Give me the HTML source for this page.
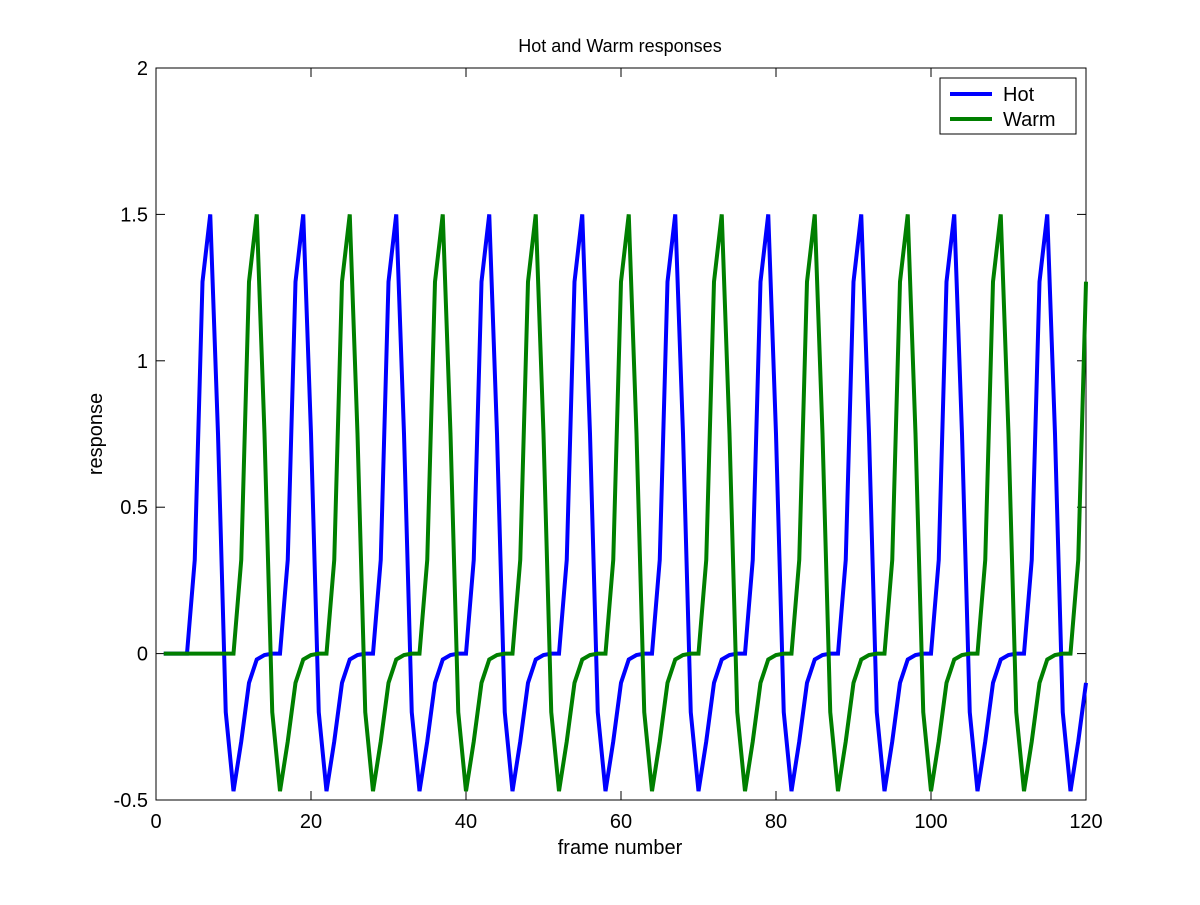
<!DOCTYPE html>
<html><head><meta charset="utf-8"><style>
body{margin:0;background:#fff;}
svg text{font-family:"Liberation Sans",Arial,sans-serif;fill:#000;}
</style></head><body>
<svg id="chart" width="1200" height="900" viewBox="0 0 1200 900" xmlns="http://www.w3.org/2000/svg">
<rect x="0" y="0" width="1200" height="900" fill="#fff"/>
<rect x="156" y="68" width="930" height="732" fill="#fff" stroke="#000" stroke-width="1"/>
<g id="ticks"></g>
<g id="series"></g>
<text x="620" y="52" font-size="18" text-anchor="middle">Hot and Warm responses</text>
<text x="620" y="854" font-size="20" text-anchor="middle">frame number</text>
<text transform="translate(102,434) rotate(-90)" font-size="20" text-anchor="middle">response</text>
<g>
<rect x="940" y="78" width="136" height="56" fill="#fff" stroke="#000" stroke-width="1"/>
<line x1="950" y1="94" x2="992" y2="94" stroke="#0000ff" stroke-width="4"/>
<text x="1003" y="101" font-size="20">Hot</text>
<line x1="950" y1="119" x2="992" y2="119" stroke="#007f00" stroke-width="4"/>
<text x="1003" y="126" font-size="20">Warm</text>
</g>
</svg>
<script>
const xTicks=[0,20,40,60,80,100,120];
const yTicks=[-0.5,0,0.5,1,1.5,2];
const yTickLabels=["-0.5","0","0.5","1","1.5","2"];
const hot=[0,0,0,
0,0.32,1.27,1.5,0.75,-0.2,-0.47,-0.3,-0.1,-0.02,-0.005,0,
0,0.32,1.27,1.5,0.75,-0.2,-0.47,-0.3,-0.1,-0.02,-0.005,0,
0,0.32,1.27,1.5,0.75,-0.2,-0.47,-0.3,-0.1,-0.02,-0.005,0,
0,0.32,1.27,1.5,0.75,-0.2,-0.47,-0.3,-0.1,-0.02,-0.005,0,
0,0.32,1.27,1.5,0.75,-0.2,-0.47,-0.3,-0.1,-0.02,-0.005,0,
0,0.32,1.27,1.5,0.75,-0.2,-0.47,-0.3,-0.1,-0.02,-0.005,0,
0,0.32,1.27,1.5,0.75,-0.2,-0.47,-0.3,-0.1,-0.02,-0.005,0,
0,0.32,1.27,1.5,0.75,-0.2,-0.47,-0.3,-0.1,-0.02,-0.005,0,
0,0.32,1.27,1.5,0.75,-0.2,-0.47,-0.3,-0.1,-0.02,-0.005,0,
0,0.32,1.27,1.5,0.75,-0.2,-0.47,-0.3,-0.1];
const warm=[0,0,0,0,0,0,0,0,0,
0,0.32,1.27,1.5,0.75,-0.2,-0.47,-0.3,-0.1,-0.02,-0.005,0,
0,0.32,1.27,1.5,0.75,-0.2,-0.47,-0.3,-0.1,-0.02,-0.005,0,
0,0.32,1.27,1.5,0.75,-0.2,-0.47,-0.3,-0.1,-0.02,-0.005,0,
0,0.32,1.27,1.5,0.75,-0.2,-0.47,-0.3,-0.1,-0.02,-0.005,0,
0,0.32,1.27,1.5,0.75,-0.2,-0.47,-0.3,-0.1,-0.02,-0.005,0,
0,0.32,1.27,1.5,0.75,-0.2,-0.47,-0.3,-0.1,-0.02,-0.005,0,
0,0.32,1.27,1.5,0.75,-0.2,-0.47,-0.3,-0.1,-0.02,-0.005,0,
0,0.32,1.27,1.5,0.75,-0.2,-0.47,-0.3,-0.1,-0.02,-0.005,0,
0,0.32,1.27,1.5,0.75,-0.2,-0.47,-0.3,-0.1,-0.02,-0.005,0,
0,0.32,1.27];
const NS="http://www.w3.org/2000/svg";
const X0=156,X1=1086,Y0=800,Y1=68;
function xs(v){return X0+(v-0)/(120-0)*(X1-X0);}
function ys(v){return Y0-(v+0.5)/(2.5)*(Y0-Y1);}
const tg=document.getElementById('ticks');
function mk(tag,attrs,parent){const e=document.createElementNS(NS,tag);for(const k in attrs)e.setAttribute(k,attrs[k]);parent.appendChild(e);return e;}
xTicks.forEach(t=>{
  const x=xs(t);
  const a=mk('line',{x1:x,y1:Y0,x2:x,y2:Y0-9,stroke:'#000'},tg);
  
  
  const b=mk('line',{x1:x,y1:Y1,x2:x,y2:Y1+9,stroke:'#000'},tg);
  
  
  const l=mk('text',{x:x,y:Y0+28,'font-size':20,'text-anchor':'middle'},tg);
  l.textContent=String(t);
  
  
});
yTicks.forEach((t,i)=>{
  const y=ys(t);
  const a=mk('line',{x1:X0,y1:y,x2:X0+9,y2:y,stroke:'#000'},tg);
  
  
  const b=mk('line',{x1:X1,y1:y,x2:X1-9,y2:y,stroke:'#000'},tg);
  
  
  const l=mk('text',{x:X0-8,y:y+7,'font-size':20,'text-anchor':'end'},tg);
  l.textContent=yTickLabels[i];
  
  
});
const sg=document.getElementById('series');
function line(arr,color,name){
  const pts=arr.map((v,i)=>xs(i+1).toFixed(2)+','+ys(v).toFixed(2)).join(' ');
  const p=mk('polyline',{points:pts,fill:'none',stroke:color,'stroke-width':4,'stroke-linejoin':'miter','stroke-miterlimit':2},sg);
  
  
}
line(hot,'#0000ff','hot-line');
line(warm,'#007f00','warm-line');
</script>
</body></html>
